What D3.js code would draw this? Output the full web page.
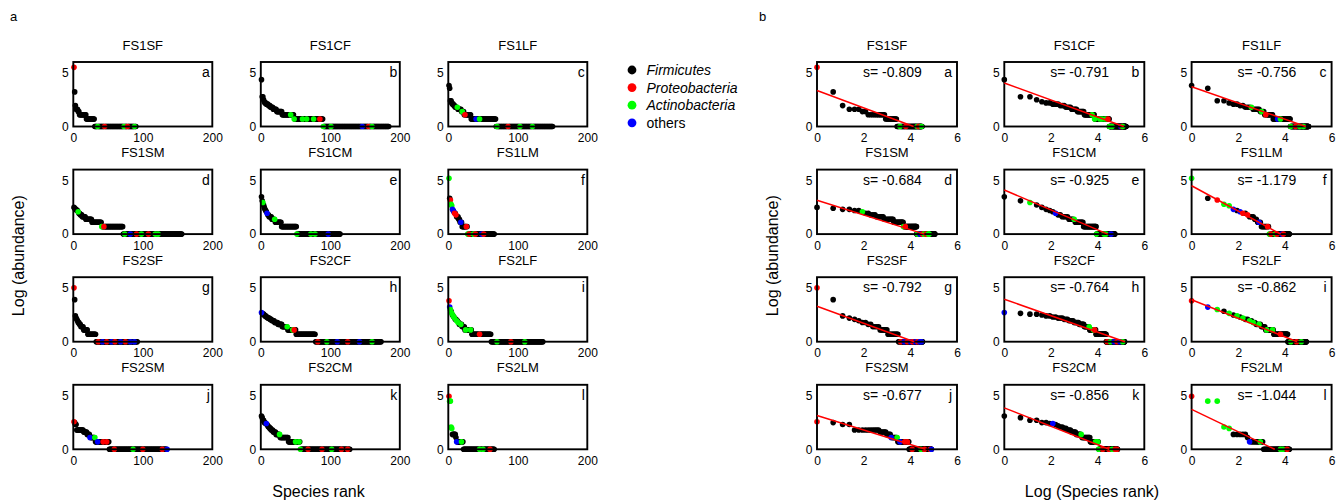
<!DOCTYPE html>
<html><head><meta charset="utf-8">
<script src="https://cdn.jsdelivr.net/npm/d3@7"></script>
<style>body{margin:0;background:#fff}svg{font-family:"Liberation Sans",Arial,sans-serif}</style>
</head><body>
<svg id="c" width="1339" height="500"></svg>
<script>
// ---------- data ----------
const samples = ["FS1SF","FS1CF","FS1LF","FS1SM","FS1CM","FS1LM","FS2SF","FS2CF","FS2LF","FS2SM","FS2CM","FS2LM"];
const letters = ["a","b","c","d","e","f","g","h","i","j","k","l"];
const slopes = [-0.809,-0.791,-0.756,-0.684,-0.925,-1.179,-0.792,-0.764,-0.862,-0.677,-0.856,-1.044];
const intercepts = [3.35,4.05,3.7,3.15,4.1,4.5,3.3,3.95,3.9,3.15,3.85,3.72];

// abundance runs: [abundance (reads), number of species with that abundance], in rank order
const FS1SF_runs = [[245,1],[25,1],[7,1],[5,3],[4,2],[3,10],[2,12],[1,60]];
const FS1CF_runs = [[78,1],[16,2],[12,1],[10,1],[9,2],[8,3],[7,3],[6,4],[5,5],[4,8],[3,17],[2,42],[1,95]];
const FS1LF_runs = [[45,1],[35,1],[11,2],[9,1],[8,2],[7,2],[6,4],[5,5],[4,4],[3,10],[2,36],[1,82]];
const FS1SM_runs = [[12,1],[11,1],[10,2],[9,2],[8,1],[7,2],[6,3],[5,5],[4,9],[3,14],[2,31],[1,85]];
const FS1CM_runs = [[32,1],[22,1],[19,1],[15,1],[12,1],[10,1],[9,1],[8,1],[7,1],[6,2],[5,4],[4,5],[3,9],[2,22],[1,63]];
const FS1LM_runs = [[180,1],[28,1],[24,1],[16,1],[14,1],[10,1],[9,1],[8,1],[7,2],[6,1],[5,3],[4,2],[3,3],[2,8],[1,39]];
const FS2SF_runs = [[150,1],[50,1],[11,1],[9,1],[8,1],[7,1],[6,2],[5,2],[4,4],[3,6],[2,12],[1,60]];
const FS2CF_runs = [[15,1],[14,1],[13,2],[12,1],[11,2],[10,2],[9,3],[8,3],[7,4],[6,5],[5,6],[4,8],[3,12],[2,28],[1,95]];
const FS2LF_runs = [[45,1],[25,1],[20,1],[17,1],[14,1],[12,1],[11,1],[10,1],[9,1],[8,2],[7,2],[6,2],[5,4],[4,4],[3,10],[2,28],[1,75]];
const FS2SM_runs = [[13,1],[12,1],[10,2],[6,10],[5,5],[4,4],[3,8],[2,20],[1,84]];
const FS2CM_runs = [[22,1],[19,1],[15,2],[12,2],[11,2],[10,1],[9,1],[8,2],[7,2],[6,3],[5,4],[4,6],[3,12],[2,17],[1,72]];
const FS2LM_runs = [[140,1],[88,2],[8,1],[7,1],[4,5],[3,1],[2,10],[1,45]];

// non-Firmicutes ranks: [rank, phylum code]  P=Proteobacteria, A=Actinobacteria, O=others
const FS1SF_taxa = [[1,"P"],[35,"A"],[45,"P"],[73,"A"],[78,"P"],[88,"A"]];
const FS1CF_taxa = [[43,"A"],[48,"A"],[60,"A"],[66,"A"],[76,"A"],[85,"P"],[90,"A"],[101,"A"],[146,"O"],[155,"P"],[160,"A"]];
const FS1LF_taxa = [[13,"A"],[20,"A"],[24,"P"],[40,"O"],[45,"A"],[70,"A"],[86,"P"],[103,"A"],[121,"A"]];
const FS1SM_taxa = [[7,"A"],[41,"A"],[44,"P"],[74,"A"],[82,"O"],[91,"P"],[98,"A"],[108,"P"],[118,"A"],[122,"A"],[157,"O"]];
const FS1CM_taxa = [[3,"A"],[9,"O"],[20,"A"],[52,"A"],[72,"A"],[78,"A"],[97,"O"]];
const FS1LM_taxa = [[1,"A"],[3,"P"],[4,"A"],[5,"A"],[6,"O"],[8,"O"],[9,"P"],[11,"P"],[18,"O"],[26,"P"],[28,"A"],[30,"P"],[36,"A"],[39,"P"],[48,"O"],[51,"P"]];
const FS2SF_taxa = [[1,"P"],[36,"P"],[42,"O"],[48,"P"],[55,"O"],[60,"P"],[68,"O"],[75,"P"],[82,"O"],[88,"O"]];
const FS2CF_taxa = [[1,"O"],[38,"A"],[46,"A"],[48,"P"],[82,"P"],[95,"A"],[110,"O"],[125,"P"],[142,"O"],[160,"A"]];
const FS2LF_taxa = [[1,"P"],[2,"O"],[3,"A"],[5,"A"],[7,"A"],[9,"A"],[12,"A"],[14,"A"],[18,"A"],[25,"A"],[32,"A"],[45,"P"],[70,"A"],[90,"P"],[110,"A"]];
const FS2SM_taxa = [[1,"P"],[24,"O"],[31,"A"],[35,"O"],[43,"P"],[48,"P"],[59,"P"],[86,"A"],[100,"P"],[128,"P"],[135,"O"]];
const FS2CM_taxa = [[8,"O"],[27,"A"],[50,"A"],[55,"A"],[57,"A"],[68,"P"],[88,"P"],[102,"A"],[116,"P"],[125,"P"]];
const FS2LM_taxa = [[1,"P"],[2,"A"],[3,"A"],[4,"A"],[5,"A"],[12,"O"],[19,"A"],[45,"A"],[50,"A"],[60,"P"]];

const xTicksRank = [0,100,200];
const xTicksLog = [0,2,4,6];
const yTicks = [0,5];
const legendLabels = ["Firmicutes","Proteobacteria","Actinobacteria","others"];
const legendCodes = ["F","P","A","O"];
const phylumColor = {F:"#000000",P:"#ff0000",A:"#00ff00",O:"#0000ff"};

const runsList = [FS1SF_runs,FS1CF_runs,FS1LF_runs,FS1SM_runs,FS1CM_runs,FS1LM_runs,FS2SF_runs,FS2CF_runs,FS2LF_runs,FS2SM_runs,FS2CM_runs,FS2LM_runs];
const taxaList = [FS1SF_taxa,FS1CF_taxa,FS1LF_taxa,FS1SM_taxa,FS1CM_taxa,FS1LM_taxa,FS2SF_taxa,FS2CF_taxa,FS2LF_taxa,FS2SM_taxa,FS2CM_taxa,FS2LM_taxa];

function buildPoints(runs, taxa){
  const pts=[]; let rank=1;
  runs.forEach(([ab,n])=>{ for(let i=0;i<n;i++){ pts.push({rank:rank, ab:ab, ph:"F"}); rank++; } });
  taxa.forEach(([r,p])=>{ if(pts[r-1]) pts[r-1].ph=p; });
  return pts.filter(d=>d.ph==="F").concat(pts.filter(d=>d.ph!=="F"));
}

// ---------- layout ----------
const svg = d3.select("#c");
const rowTop0 = 62, rowDy = 107.6, boxH = 64.5;
const panelA = {x0:73.3, dx:187.5, w:139};
const panelB = {x0:817, dx:187.3, w:140};
const tickFont = 12;

function drawPanel(P, isLog){
  samples.forEach((name,i)=>{
    const col=i%3, row=Math.floor(i/3);
    const left=P.x0+col*P.dx, top=rowTop0+row*rowDy, bottom=top+boxH;
    const x = isLog ? d3.scaleLinear().domain([0,6]).range([left,left+P.w])
                    : d3.scaleLinear().domain([0,200]).range([left,left+P.w]);
    const y = d3.scaleLinear().domain([0,6]).range([bottom,top]);
    const g = svg.append("g");
    g.append("text").attr("x",left+P.w/2).attr("y",top-12.5).attr("text-anchor","middle")
      .attr("font-size",13).text(name);
    const xa = d3.axisBottom(x).tickValues(isLog?xTicksLog:xTicksRank).tickSize(0).tickPadding(0).tickFormat(d3.format("d"));
    const gx = g.append("g").attr("transform",`translate(0,${bottom})`).call(xa);
    gx.select(".domain").remove();
    gx.selectAll("text").attr("dy",0).attr("y",15.5).attr("font-size",tickFont).attr("font-family","Liberation Sans, Arial, sans-serif").attr("fill","#000");
    const ya = d3.axisLeft(y).tickValues(yTicks).tickSize(0).tickPadding(4.5).tickFormat(d3.format("d"));
    const gy = g.append("g").attr("transform",`translate(${left},0)`).call(ya);
    gy.select(".domain").remove();
    gy.selectAll("text").attr("font-size",tickFont).attr("font-family","Liberation Sans, Arial, sans-serif").attr("fill","#000");
    const pts = buildPoints(runsList[i], taxaList[i]);
    g.selectAll("circle").data(pts).enter().append("circle")
      .attr("cx",d=> isLog ? x(Math.log(d.rank)) : x(d.rank))
      .attr("cy",d=> y(Math.log(d.ab)))
      .attr("r",2.8).attr("fill",d=>phylumColor[d.ph]);
    g.append("rect").attr("x",left).attr("y",top).attr("width",P.w).attr("height",boxH)
      .attr("fill","none").attr("stroke","#000").attr("stroke-width",1.9);
    if(isLog){
      const s=slopes[i], b=intercepts[i];
      const xEnd = -b/s;
      g.append("line").attr("x1",x(0)).attr("y1",y(b)).attr("x2",x(xEnd)).attr("y2",y(0))
        .attr("stroke","#ff0000").attr("stroke-width",1.5);
      g.append("text").attr("x",left+46).attr("y",top+15).attr("font-size",14)
        .text("s= "+s.toFixed(3));
      g.append("text").attr("x",left+P.w-5).attr("y",top+15).attr("text-anchor","end")
        .attr("font-size",14).text(letters[i]);
    } else {
      g.append("text").attr("x",left+P.w-2.5).attr("y",top+15).attr("text-anchor","end")
        .attr("font-size",14).text(letters[i]);
    }
  });
}
drawPanel(panelA,false);
drawPanel(panelB,true);

svg.append("text").attr("x",10).attr("y",21).attr("font-size",13).text("a");
svg.append("text").attr("x",759).attr("y",21).attr("font-size",13).text("b");

const yMid = rowTop0 + (3*rowDy+boxH)/2;
svg.append("text").attr("transform",`translate(23.5,${yMid}) rotate(-90)`).attr("text-anchor","middle")
  .attr("font-size",16).text("Log (abundance)");
svg.append("text").attr("transform",`translate(778,${yMid}) rotate(-90)`).attr("text-anchor","middle")
  .attr("font-size",16).text("Log (abundance)");
svg.append("text").attr("x",318.5).attr("y",497).attr("text-anchor","middle").attr("font-size",16).text("Species rank");
svg.append("text").attr("x",1092).attr("y",497).attr("text-anchor","middle").attr("font-size",16).text("Log (Species rank)");

const lg = svg.append("g");
legendLabels.forEach((lab,k)=>{
  const yy = 70 + k*17.6;
  lg.append("circle").attr("cx",632).attr("cy",yy).attr("r",4.4).attr("fill",phylumColor[legendCodes[k]]);
  lg.append("text").attr("x",646.5).attr("y",yy+5).attr("font-size",14)
    .attr("font-style", k<3 ? "italic" : "normal").text(lab);
});
</script>
</body></html>
